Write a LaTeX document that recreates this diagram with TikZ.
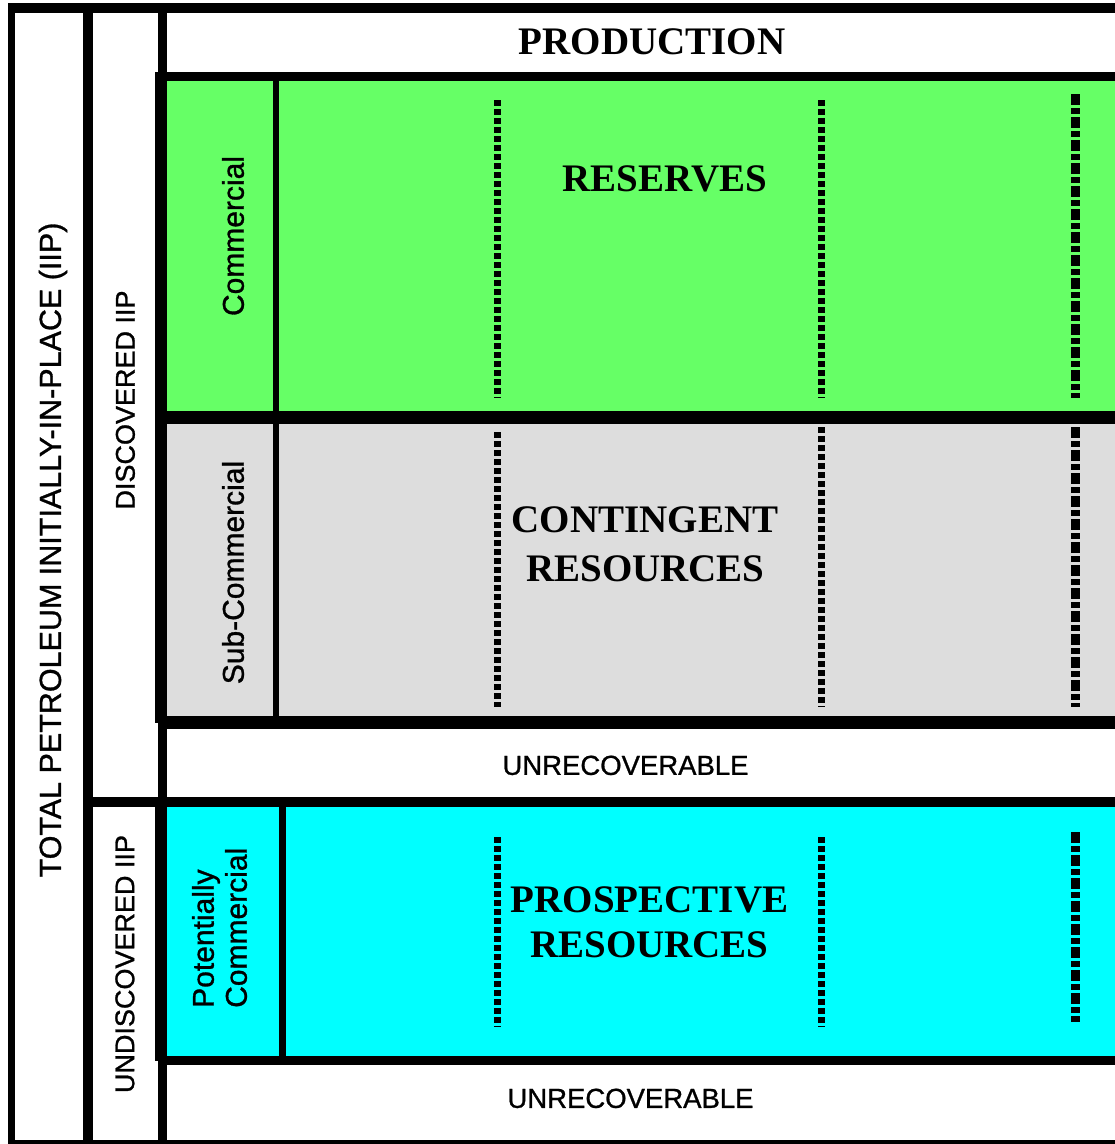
\documentclass[tikz,border=0pt]{standalone}
\usepackage{fontspec}
\setmainfont{Liberation Serif}
\setsansfont{Liberation Sans}[RawFeature={embolden=1.0}]
\definecolor{resgreen}{HTML}{66FF66}
\definecolor{congray}{HTML}{DDDDDD}
\definecolor{procyan}{HTML}{00FFFF}
\begin{document}
\begin{tikzpicture}[x=1pt,y=-1pt,
  band/.style={fill=black},
  dashline/.style={draw=black,line width=7pt,dash pattern=on 6pt off 3pt},
  dashlinewide/.style={draw=black,line width=9pt,dash pattern=on 11pt off 3pt on 6pt off 3pt},
  bigcap/.style={font=\bfseries\fontsize{39}{39}\selectfont,inner sep=0pt,text height=25.8pt,text depth=0pt},
  sidecap/.style={font=\sffamily\fontsize{#1}{#1}\selectfont,inner sep=0pt,text height=0.716*#1 pt,text depth=0pt,rotate=90},
  flatcap/.style={font=\sffamily\fontsize{27.5}{27.5}\selectfont,inner sep=0pt,text height=19.7pt,text depth=0pt}
]
\useasboundingbox (0,0) rectangle (1115,1144);
\clip (0,0) rectangle (1115,1144);
% white background
\fill[white] (0,0) rectangle (1115,1144);
% coloured fields
\fill[resgreen] (167,81) rectangle (1120,411);
\fill[congray] (167,424) rectangle (1120,716);
\fill[procyan] (167,807) rectangle (1120,1056);
% black frame bands
\fill[band] (8,3) rectangle (15,1150);
\fill[band] (8,3) rectangle (1120,13);
\fill[band] (8,1140) rectangle (1120,1150);
\fill[band] (83,3) rectangle (93,1150);
\fill[band] (158,3) rectangle (167,1150);
\fill[band] (155,72) rectangle (1120,81);
\fill[band] (155,72) rectangle (167,723);
\fill[band] (167,411) rectangle (1120,424);
\fill[band] (158,716) rectangle (1120,729);
\fill[band] (273,81) rectangle (279,716);
\fill[band] (93,797) rectangle (1120,807);
\fill[band] (155,797) rectangle (167,1061);
\fill[band] (167,1056) rectangle (1120,1065);
\fill[band] (279,807) rectangle (286,1056);
% dashed dividers
\draw[dashline] (497,100) -- (497,398);
\draw[dashline] (821,100) -- (821,398);
\draw[dashlinewide] (1075,94) -- (1075,398);
\draw[dashline] (497,432) -- (497,707);
\draw[dashline] (821,427) -- (821,707);
\draw[dashlinewide] (1075,427) -- (1075,707);
\draw[dashline] (497,837) -- (497,1027);
\draw[dashline] (821,837) -- (821,1027);
\draw[dashlinewide] (1075,832) -- (1075,1022);
% texts
\node[bigcap] (prod) at (652,42) {PRODUCTION};
\node[bigcap] (res) at (665,179) {RESERVES};
\node[bigcap] (cont1) at (645,520) {CONTINGENT};
\node[bigcap] (cont2) at (645.5,569) {RESOURCES};
\node[bigcap] (pros1) at (649.5,900) {PROSPECTIVE};
\node[bigcap] (pros2) at (649.5,945) {RESOURCES};
\node[flatcap] (unrec1) at (625.5,765) {UNRECOVERABLE};
\node[flatcap] (unrec2) at (630.5,1098) {UNRECOVERABLE};
\node[sidecap=30.5] (total) at (50,550) {TOTAL PETROLEUM INITIALLY-IN-PLACE (IIP)};
\node[sidecap=27] (disc) at (125,400) {DISCOVERED IIP};
\node[sidecap=27] (undisc) at (124.5,964) {UNDISCOVERED IIP};
\node[sidecap=30] (comm) at (233,236) {Commercial};
\node[sidecap=30] (subcomm) at (233,572.5) {Sub-Commercial};
\node[sidecap=30,anchor=west] (pot1) at (203,1008) {Potentially};
\node[sidecap=30,anchor=west] (pot2) at (236,1008) {Commercial};
\end{tikzpicture}
\end{document}
